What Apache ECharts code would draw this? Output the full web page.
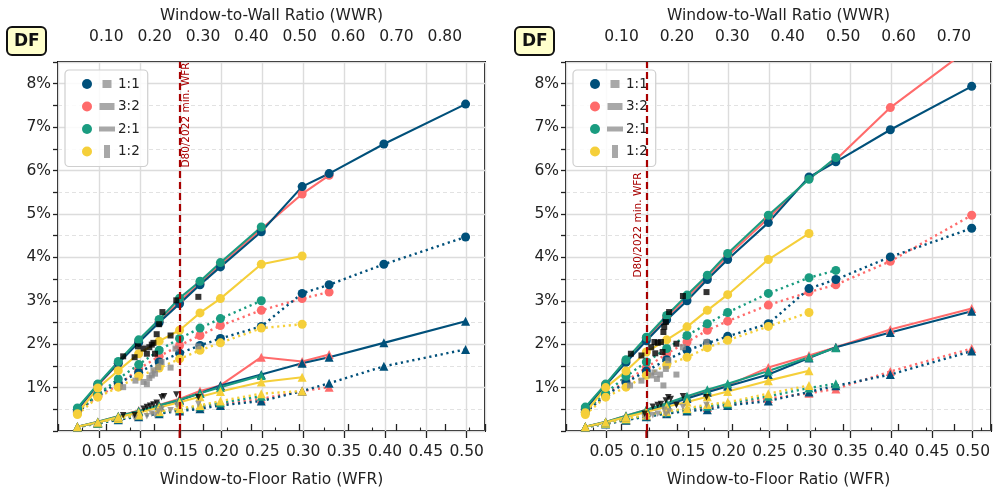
<!DOCTYPE html>
<html><head><meta charset="utf-8">
<script src="https://cdn.jsdelivr.net/npm/echarts@6/dist/echarts.min.js"></script>
<style>html,body{margin:0;padding:0;background:#fff}#c{width:993px;height:496px}</style>
</head><body><div id="c"></div>
<script>
// ---------------- DATA ----------------
const RATIOS = ['1:1', '3:2', '2:1', '1:2'];
const WFR = [0.025, 0.05, 0.075, 0.1, 0.125, 0.15, 0.175, 0.2, 0.25, 0.3, 0.333, 0.4, 0.5];
const Y_TICKS = [1, 2, 3, 4, 5, 6, 7, 8];
const MIN_WFR = [0.15, 0.10];           // D80/2022 min. WFR per panel
const WWR_PER_WFR = [1.69, 1.468];      // top axis conversion per panel

// Left panel: SC = solid circles, DC = dotted circles, ST = solid triangles, DT = dotted triangles
const L_SC_11 = [0.50, 1.07, 1.56, 2.04, 2.50, 2.93, 3.37, 3.78, 4.59, 5.63, 5.93, 6.61, 7.53];
const L_SC_32 = [0.48, 1.05, 1.56, 2.06, 2.52, 2.98, 3.40, 3.84, 4.65, 5.46, 5.89];
const L_SC_21 = [0.53, 1.08, 1.60, 2.10, 2.57, 3.06, 3.45, 3.88, 4.70];
const L_SC_12 = [0.40, 0.99, 1.39, 1.78, 2.07, 2.32, 2.72, 3.05, 3.84, 4.03];
const L_DC_11 = [0.42, 0.85, 1.10, 1.35, 1.59, 1.79, 1.97, 2.13, 2.41, 3.17, 3.37, 3.84, 4.47];
const L_DC_32 = [0.44, 0.80, 1.05, 1.43, 1.72, 1.97, 2.20, 2.43, 2.78, 3.05, 3.20];
const L_DC_21 = [0.45, 0.84, 1.20, 1.53, 1.86, 2.13, 2.37, 2.59, 3.00];
const L_DC_12 = [0.38, 0.78, 1.01, 1.26, 1.45, 1.66, 1.86, 2.03, 2.37, 2.46];
const L_ST_11 = [0.10, 0.20, 0.33, 0.45, 0.58, 0.71, 0.87, 1.05, 1.30, 1.56, 1.70, 2.03, 2.53];
const L_ST_32 = [0.10, 0.21, 0.34, 0.47, 0.60, 0.74, 0.92, 1.05, 1.70, 1.60, 1.76];
const L_ST_21 = [0.10, 0.21, 0.34, 0.46, 0.59, 0.72, 0.87, 1.01, 1.28];
const L_ST_12 = [0.10, 0.20, 0.32, 0.42, 0.54, 0.66, 0.79, 0.91, 1.13, 1.24];
const L_DT_11 = [0.09, 0.17, 0.26, 0.33, 0.40, 0.46, 0.51, 0.59, 0.69, 0.92, 1.10, 1.49, 1.88];
const L_DT_32 = [0.09, 0.18, 0.27, 0.35, 0.42, 0.48, 0.55, 0.62, 0.74, 0.92, 1.01];
const L_DT_21 = [0.09, 0.18, 0.28, 0.36, 0.43, 0.50, 0.57, 0.65, 0.80];
const L_DT_12 = [0.10, 0.19, 0.29, 0.37, 0.45, 0.52, 0.59, 0.69, 0.86, 0.92];

// Right panel
const R_SC_11 = [0.50, 1.05, 1.58, 2.08, 2.56, 3.00, 3.49, 3.95, 4.80, 5.85, 6.20, 6.94, 7.94];
const R_SC_32 = [0.52, 1.07, 1.62, 2.13, 2.62, 3.08, 3.55, 4.03, 4.90, 5.82, 6.25, 7.45, 8.85];
const R_SC_21 = [0.55, 1.08, 1.64, 2.16, 2.66, 3.13, 3.59, 4.09, 4.97, 5.80, 6.30];
const R_SC_12 = [0.42, 1.00, 1.38, 1.82, 2.10, 2.40, 2.78, 3.14, 3.95, 4.55];
const R_DC_11 = [0.42, 0.82, 1.12, 1.38, 1.64, 1.86, 2.02, 2.18, 2.47, 3.28, 3.49, 4.01, 4.67];
const R_DC_32 = [0.44, 0.83, 1.15, 1.46, 1.78, 2.05, 2.32, 2.53, 2.90, 3.20, 3.37, 3.91, 4.97];
const R_DC_21 = [0.46, 0.87, 1.26, 1.59, 1.90, 2.20, 2.47, 2.73, 3.17, 3.53, 3.70];
const R_DC_12 = [0.38, 0.78, 1.01, 1.28, 1.52, 1.70, 1.92, 2.09, 2.41, 2.73];
const R_ST_11 = [0.10, 0.20, 0.33, 0.46, 0.60, 0.75, 0.89, 1.03, 1.30, 1.68, 1.93, 2.27, 2.76];
const R_ST_32 = [0.10, 0.21, 0.35, 0.49, 0.63, 0.78, 0.92, 1.05, 1.46, 1.74, 1.93, 2.34, 2.82];
const R_ST_21 = [0.10, 0.21, 0.35, 0.49, 0.64, 0.80, 0.95, 1.09, 1.38, 1.70, 1.92];
const R_ST_12 = [0.10, 0.20, 0.32, 0.44, 0.56, 0.67, 0.79, 0.91, 1.16, 1.39];
const R_DT_11 = [0.09, 0.16, 0.25, 0.33, 0.40, 0.46, 0.49, 0.59, 0.69, 0.90, 1.04, 1.30, 1.84];
const R_DT_32 = [0.09, 0.17, 0.26, 0.34, 0.41, 0.48, 0.54, 0.60, 0.75, 0.87, 0.97, 1.37, 1.90];
const R_DT_21 = [0.09, 0.17, 0.27, 0.35, 0.43, 0.50, 0.57, 0.63, 0.80, 0.99, 1.09];
const R_DT_12 = [0.10, 0.18, 0.28, 0.37, 0.45, 0.52, 0.61, 0.66, 0.86, 1.05];

// Reference points [WFR, DF%]
const L_BLACK_SQ = [[0.081,1.72],[0.095,1.70],[0.099,1.95],[0.106,1.90],[0.110,1.78],[0.113,1.93],[0.116,1.99],[0.118,2.03],[0.120,1.78],[0.122,2.23],[0.125,2.46],[0.129,2.74],[0.139,2.20],[0.146,3.01],[0.173,3.09]];
const L_GRAY_SQ = [[0.081,1.01],[0.096,1.16],[0.106,1.13],[0.110,1.08],[0.113,1.22],[0.116,1.28],[0.118,1.40],[0.120,1.32],[0.124,1.47],[0.128,1.59],[0.139,1.46],[0.145,1.90],[0.173,1.95]];
const L_BLACK_TRI = [[0.081,0.36],[0.095,0.37],[0.106,0.51],[0.110,0.55],[0.114,0.58],[0.118,0.61],[0.122,0.65],[0.128,0.78],[0.131,0.80],[0.146,0.84],[0.173,0.78]];
const L_GRAY_TRI = [[0.095,0.30],[0.110,0.34],[0.116,0.40],[0.120,0.37],[0.124,0.45],[0.128,0.50],[0.139,0.48],[0.147,0.59],[0.173,0.62]];
const R_BLACK_SQ = [[0.081,1.78],[0.094,1.74],[0.106,1.93],[0.110,2.05],[0.111,1.79],[0.114,2.03],[0.118,2.05],[0.120,1.82],[0.121,2.28],[0.122,2.40],[0.124,2.51],[0.128,2.74],[0.137,2.01],[0.145,3.11],[0.174,3.20]];
const R_GRAY_SQ = [[0.080,1.05],[0.094,1.16],[0.106,1.28],[0.110,1.35],[0.113,1.20],[0.117,1.30],[0.121,1.05],[0.124,1.43],[0.127,1.63],[0.137,1.30],[0.145,1.93],[0.174,2.05]];
const R_BLACK_TRI = [[0.098,0.40],[0.108,0.56],[0.114,0.60],[0.118,0.62],[0.124,0.70],[0.127,0.78],[0.130,0.74],[0.137,0.60],[0.145,0.80],[0.174,0.78]];
const R_GRAY_TRI = [[0.098,0.32],[0.108,0.36],[0.114,0.40],[0.122,0.49],[0.124,0.38],[0.128,0.45],[0.137,0.60],[0.145,0.55],[0.174,0.60]];

// ---------------- STYLE ----------------
const COLORS = {'1:1': '#00507a', '3:2': '#ff6b6b', '2:1': '#1a9c80', '1:2': '#f5cf3a'};
const RECT = {'1:1': [9, 8], '3:2': [15, 7], '2:1': [16, 5], '1:2': [6, 13]};
const FONT = 'DejaVu Sans';
const FS = 15.5;
const XMIN = 0.00125, XMAX = 0.52375;

const PANELS = [
  {SC: [L_SC_11, L_SC_32, L_SC_21, L_SC_12], DC: [L_DC_11, L_DC_32, L_DC_21, L_DC_12],
   ST: [L_ST_11, L_ST_32, L_ST_21, L_ST_12], DT: [L_DT_11, L_DT_32, L_DT_21, L_DT_12],
   bsq: L_BLACK_SQ, gsq: L_GRAY_SQ, btr: L_BLACK_TRI, gtr: L_GRAY_TRI},
  {SC: [R_SC_11, R_SC_32, R_SC_21, R_SC_12], DC: [R_DC_11, R_DC_32, R_DC_21, R_DC_12],
   ST: [R_ST_11, R_ST_32, R_ST_21, R_ST_12], DT: [R_DT_11, R_DT_32, R_DT_21, R_DT_12],
   bsq: R_BLACK_SQ, gsq: R_GRAY_SQ, btr: R_BLACK_TRI, gtr: R_GRAY_TRI}
];
const GRIDS = [{left: 58, top: 62, width: 427, height: 369}, {left: 566, top: 62, width: 425, height: 369}];

const chart = echarts.init(document.getElementById('c'), null, {renderer: 'canvas'});

const grid = GRIDS.map(g => Object.assign({show: true, borderColor: '#111', borderWidth: 2, backgroundColor: 'transparent'}, g));

const xAxis = [];
const yAxis = [];
GRIDS.forEach((g, p) => {
  xAxis.push({
    type: 'value', gridIndex: p, position: 'bottom', min: XMIN, max: XMAX, interval: 0.05,
    name: 'Window-to-Floor Ratio (WFR)', nameLocation: 'middle', nameGap: 41,
    nameTextStyle: {fontFamily: FONT, fontSize: FS, color: '#222'},
    axisLine: {show: false},
    axisTick: {show: true, length: 7, lineStyle: {color: '#222', width: 1.3}},
    axisLabel: {fontFamily: FONT, fontSize: FS, color: '#222', margin: 13, showMinLabel: false, showMaxLabel: false,
                formatter: v => v.toFixed(2)},
    splitLine: {show: true, lineStyle: {color: '#dcdcdc', width: 1.4}}
  });
});
GRIDS.forEach((g, p) => {
  const f = WWR_PER_WFR[p];
  xAxis.push({
    type: 'value', gridIndex: p, position: 'top', min: XMIN * f, max: XMAX * f, interval: 0.1,
    name: 'Window-to-Wall Ratio (WWR)', nameLocation: 'middle', nameGap: 37,
    nameTextStyle: {fontFamily: FONT, fontSize: FS, color: '#222'},
    axisLine: {show: false},
    axisTick: {show: true, length: 7, lineStyle: {color: '#222', width: 1.3}},
    minorTick: {show: true, splitNumber: 2, length: 3.5, lineStyle: {color: '#222', width: 1.1}},
    axisLabel: {fontFamily: FONT, fontSize: FS, color: '#222', margin: 17, showMinLabel: false, showMaxLabel: false,
                formatter: v => v.toFixed(2)},
    splitLine: {show: false}
  });
});
GRIDS.forEach((g, p) => {
  yAxis.push({
    type: 'value', gridIndex: p, min: 0, max: 8.5, interval: 0.5,
    axisLine: {show: false},
    axisTick: {show: true, length: 5, lineStyle: {color: '#222', width: 1.3}},
    axisLabel: {fontFamily: FONT, fontSize: FS, color: '#222', margin: 7,
                formatter: v => {const r = Math.round(v); return (Math.abs(v - r) < 1e-6 && Y_TICKS.includes(r)) ? r + '%' : '';}},
    splitLine: {show: true, lineStyle: {color: '#e2e2e2', width: 1, type: [4, 3]}}
  });
  yAxis.push({
    type: 'value', gridIndex: p, min: 0, max: 8.5, interval: 1,
    axisLine: {show: false}, axisTick: {show: false}, axisLabel: {show: false},
    splitLine: {show: true, lineStyle: {color: '#dcdcdc', width: 1.4}}
  });
});

const series = [];
const ORDER = [1, 0, 2, 3]; // draw 3:2, 1:1, 2:1, 1:2
PANELS.forEach((P, p) => {
  // the D80/2022 minimum WFR line
  series.push({
    type: 'line', name: 'minWFR', xAxisIndex: p, yAxisIndex: 2 * p, data: [], z: 1,
    markLine: {silent: true, symbol: 'none', animation: false, label: {show: false},
               lineStyle: {color: '#a80000', width: 2.2, type: [7, 4]}, data: [{xAxis: MIN_WFR[p]}]}
  });
  const kinds = [
    {key: 'DT', sym: 'triangle', dotted: true},
    {key: 'ST', sym: 'triangle', dotted: false},
    {key: 'DC', sym: 'circle', dotted: true},
    {key: 'SC', sym: 'circle', dotted: false}
  ];
  kinds.forEach(k => {
    ORDER.forEach(ri => {
      const name = RATIOS[ri];
      const vals = P[k.key][ri];
      series.push({
        type: 'line', name: name, xAxisIndex: p, yAxisIndex: 2 * p,
        data: vals.map((v, i) => [WFR[i], v]),
        symbol: k.sym, symbolSize: 9, showSymbol: true,
        clip: true,
        color: COLORS[name],
        itemStyle: {color: COLORS[name]},
        lineStyle: {color: COLORS[name], width: k.dotted ? 2.4 : 2.1, type: k.dotted ? [2.2, 3.6] : 'solid', cap: 'butt'},
        emphasis: {disabled: true}
      });
    });
  });
  // reference points
  const sc = (data, color, sym, rot, size) => series.push({
    type: 'scatter', name: 'ref', xAxisIndex: p, yAxisIndex: 2 * p, data: data,
    symbol: sym, symbolRotate: rot, symbolSize: size, itemStyle: {color: color}, emphasis: {disabled: true}, z: 3
  });
  sc(P.gtr, '#8a8a8a', 'triangle', 180, 6.5);
  sc(P.btr, '#000', 'triangle', 180, 6.5);
  sc(P.gsq, '#8a8a8a', 'rect', 0, 6);
  sc(P.bsq, '#000', 'rect', 0, 6);
});

const rich = {t: {fontFamily: FONT, fontSize: 13.5, color: '#222', lineHeight: 14, verticalAlign: 'middle', padding: [0, 0, 0, 1]}};
RATIOS.forEach((r, i) => {
  const [w, h] = RECT[r];
  rich['r' + i] = {width: w, height: h, backgroundColor: '#a8a8a8', lineHeight: 14, verticalAlign: 'middle'};
  rich['s' + i] = {width: (20 - w) / 2, height: 2, lineHeight: 14, verticalAlign: 'middle'};
});
const legendFmt = name => {const i = RATIOS.indexOf(name); return `{s${i}|}{r${i}|}{s${i}|}{t|${name}}`;};
const legendBase = {
  orient: 'vertical', data: RATIOS, icon: 'circle', itemWidth: 10, itemHeight: 10, itemGap: 8.5,
  padding: [7, 8, 8, 17], borderColor: '#cfcfcf', borderWidth: 1.2, borderRadius: 4, backgroundColor: 'rgba(255,255,255,0.85)',
  textStyle: {fontFamily: FONT, fontSize: 13.5, color: '#222', rich: rich}, formatter: legendFmt,
  selectedMode: false, inactiveColor: '#ccc'
};

const dfBox = left => ({
  text: 'DF', left: left, top: 27,
  backgroundColor: '#ffffcc', borderColor: '#111', borderWidth: 2, borderRadius: 5, padding: [4, 7, 3, 7],
  textStyle: {fontFamily: FONT, fontSize: 17, fontWeight: 'bold', color: '#111', lineHeight: 21}
});

const annotText = {text: 'D80/2022 min. WFR', fill: '#a80000', fontFamily: FONT, fontSize: 10.5, align: 'center', verticalAlign: 'middle', textAlign: 'center', textVerticalAlign: 'middle'};

chart.setOption({
  animation: false,
  backgroundColor: '#fff',
  title: [dfBox(7), dfBox(515)],
  grid: grid, xAxis: xAxis, yAxis: yAxis,
  legend: [Object.assign({left: 65, top: 70}, legendBase), Object.assign({left: 573, top: 70}, legendBase)],
  series: series,
  graphic: [
    {type: 'text', x: 186, y: 115, rotation: Math.PI / 2, z: 50, style: annotText},
    {type: 'text', x: 638, y: 225, rotation: Math.PI / 2, z: 50, style: annotText}
  ]
});

// red bottom tick at the minimum WFR (position from the axis scale)
const redTicks = MIN_WFR.map((w, p) => {
  const px = chart.convertToPixel({xAxisIndex: p}, w);
  const yb = GRIDS[p].top + GRIDS[p].height;
  return {type: 'line', z: 60, shape: {x1: px, y1: yb, x2: px, y2: yb + 7}, style: {stroke: '#a80000', lineWidth: 2}};
});
chart.setOption({graphic: [
  {type: 'text', x: 186, y: 115, rotation: Math.PI / 2, z: 50, style: annotText},
  {type: 'text', x: 638, y: 225, rotation: Math.PI / 2, z: 50, style: annotText}
].concat(redTicks)}, {replaceMerge: ['graphic']});
</script></body></html>
